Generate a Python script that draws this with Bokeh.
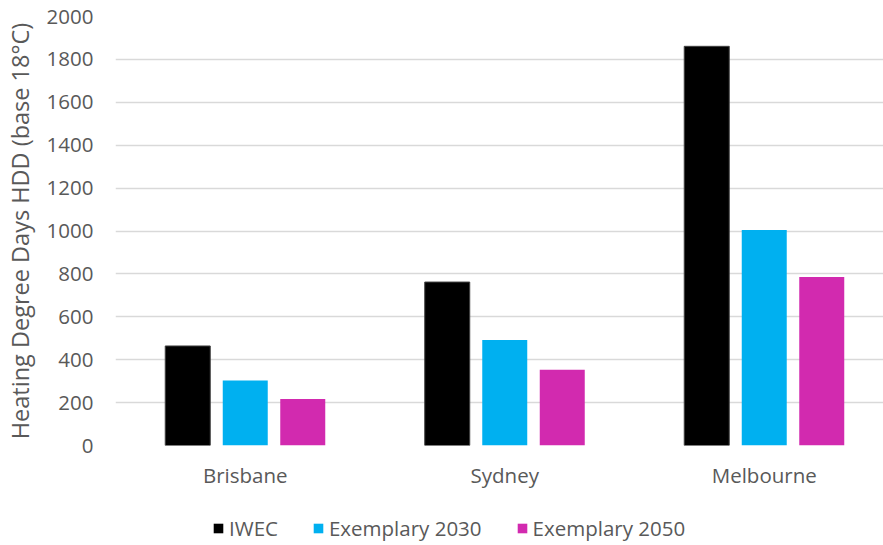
import numpy as np
from bokeh.plotting import figure
from bokeh.layouts import column
from bokeh.models import Range1d, FixedTicker, ColumnDataSource, Legend, LegendItem
from bokeh.transform import dodge
from bokeh.embed import file_html
from bokeh.resources import INLINE

cities = ["Brisbane", "Sydney", "Melbourne"]
series = ["IWEC", "Exemplary 2030", "Exemplary 2050"]
iwec = [464, 762, 1861]
ex2030 = [303, 492, 1005]
ex2050 = [217, 353, 786]
colors = ["#000000", "#00B0F0", "#D22AAF"]
y_ticks = [0, 200, 400, 600, 800, 1000, 1200, 1400, 1600, 1800, 2000]

FONT = "Open Sans"
FS = "20.5px"
TXT = "#595959"

xc = [i + 0.5 for i in range(len(cities))]
src = ColumnDataSource(dict(x=xc, s0=iwec, s1=ex2030, s2=ex2050))

p = figure(frame_width=768, frame_height=429, output_backend="svg", toolbar_location=None,
           x_range=Range1d(0, 768 / 259.5), y_range=Range1d(0, 2000),
           min_border_left=115, min_border_right=0, min_border_top=16, min_border_bottom=45)
p.outline_line_color = None

offsets = [-0.2216, 0.0, 0.2216]
for i, (name, col) in enumerate(zip(series, colors)):
    p.vbar(x=dodge("x", offsets[i]), top=f"s{i}", width=0.1734, source=src,
           fill_color=col, line_color="#404040" if i == 0 else col, line_width=1 if i == 0 else 0)

p.yaxis.ticker = FixedTicker(ticks=y_ticks)
p.xaxis.ticker = FixedTicker(ticks=xc)
p.xaxis.major_label_overrides = {x: c for x, c in zip(xc, cities)}
p.ygrid.grid_line_color = "#D9D9D9"
p.ygrid.grid_line_width = 1.3
p.xgrid.grid_line_color = None

for ax in (p.xaxis, p.yaxis):
    ax.axis_line_color = None
    ax.major_tick_line_color = None
    ax.minor_tick_line_color = None
    ax.major_label_text_font = FONT
    ax.major_label_text_font_size = FS
    ax.major_label_text_color = TXT
p.xaxis.major_label_standoff = 9
p.yaxis.major_label_standoff = 16
p.yaxis.axis_label = "Heating Degree Days HDD (base 18°C)"
p.yaxis.axis_label_text_font = FONT
p.yaxis.axis_label_text_font_size = "23.5px"
p.yaxis.axis_label_text_font_style = "normal"
p.yaxis.axis_label_text_color = TXT
p.yaxis.axis_label_standoff = 8

# legend strip (legend keys only; their single point lies outside the visible range)
p2 = figure(width=883, height=55, output_backend="svg", toolbar_location=None,
            x_range=Range1d(0, 1), y_range=Range1d(0, 1),
            min_border_left=0, min_border_right=0, min_border_top=0, min_border_bottom=0)
p2.axis.visible = False
p2.grid.visible = False
p2.outline_line_color = None
items = []
for name, col in zip(series, colors):
    r = p2.vbar(x=[5], top=[1], width=0.1, fill_color=col, line_color=col, line_width=0)
    items.append(LegendItem(label=name, renderers=[r]))
legend = Legend(items=items, orientation="horizontal", location=(97, 4),
                label_text_font=FONT, label_text_font_size=FS, label_text_color=TXT,
                glyph_width=12, glyph_height=12, spacing=34, label_standoff=5,
                border_line_color=None, background_fill_alpha=0, padding=0, margin=0)
p2.add_layout(legend, "center")

layout = column(p, p2, spacing=0)
open("out.html", "w").write(file_html(layout, INLINE))
